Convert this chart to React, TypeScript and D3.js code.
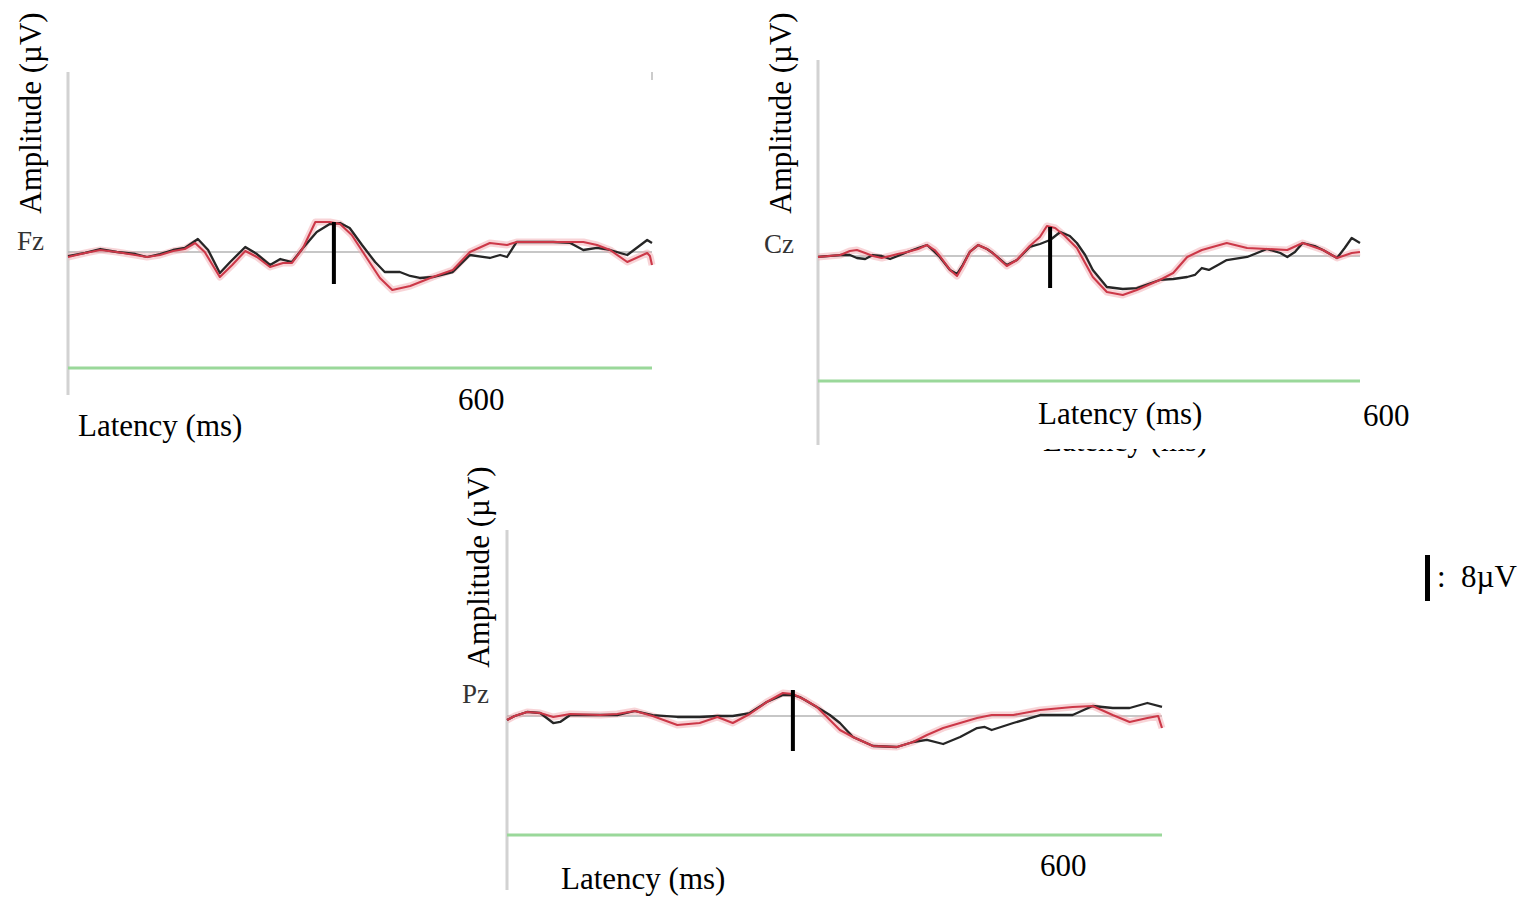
import React from 'react';
import * as d3 from 'd3';

// Vertical gain shared by every channel (pixels per microvolt) and the epoch length.
const PX_PER_UV = 5.75;
const LATENCY_DOMAIN: [number, number] = [0, 850];
const SCALE_BAR_UV = 8;

type Pt = [number, number]; // [latency ms, amplitude µV]

// ---- Fz ----
const fzTraceA: Pt[] = [
  [0, -0.7], [25, -0.17], [47, 0.52], [71, 0], [98, -0.35], [115, -0.87], [134, -0.35], [153, 0.35],
  [170, 0.7], [189, 2.26], [204, 0.35], [221, -3.65], [236, -1.74], [258, 0.87], [275, -0.35],
  [294, -2.26], [309, -1.22], [326, -1.74], [342, 0.7], [362, 3.48], [381, 4.87], [396, 5.04],
  [410, 4.17], [428, 1.22], [447, -1.74], [461, -3.48], [483, -3.48], [498, -4.17], [512, -4.52],
  [531, -4.35], [560, -3.48], [585, -0.52], [614, -1.04], [629, -0.52], [639, -0.87], [653, 1.74],
  [706, 1.74], [731, 1.57], [750, 0.35], [770, 0.7], [789, 0.35], [814, -0.52], [843, 2.09], [850, 1.57],
];
const fzTraceB: Pt[] = [
  [0, -0.87], [25, -0.17], [47, 0.35], [71, 0], [98, -0.52], [115, -0.87], [134, -0.52], [153, 0.17],
  [170, 0.52], [185, 1.57], [199, 0], [221, -4.35], [239, -2.26], [258, 0.17], [275, -0.87],
  [294, -2.61], [313, -1.91], [326, -1.91], [342, 0.7], [360, 5.22], [381, 5.22], [396, 4.87],
  [413, 2.96], [432, -0.52], [454, -4.52], [472, -6.61], [498, -5.91], [531, -4.35], [560, -3.13],
  [585, 0], [614, 1.57], [639, 1.22], [653, 1.74], [706, 1.74], [750, 1.74], [770, 1.22], [789, 0.35],
  [814, -1.74], [843, -0.17], [847, -0.7], [850, -2.26],
];
const fzMarker = { latency: 387, top: 5.22, bottom: -5.57 };

// ---- Cz ----
const czTraceA: Pt[] = [
  [0, -0.17], [35, 0.17], [50, 0.17], [61, -0.35], [74, -0.52], [86, 0.17], [100, 0], [113, -0.52],
  [125, 0], [140, 0.7], [157, 1.39], [171, 1.91], [183, 0.7], [191, -0.17], [207, -2.43], [218, -3.13],
  [227, -1.57], [238, 0.7], [251, 1.91], [265, 1.22], [274, 0.52], [296, -1.57], [312, -0.7], [332, 1.57],
  [348, 2.09], [364, 2.78], [380, 4.17], [395, 3.48], [406, 2.26], [419, 0.17], [431, -2.43], [453, -5.39],
  [478, -5.74], [500, -5.57], [536, -4.17], [557, -4.0], [579, -3.65], [591, -3.3], [602, -2.09],
  [613, -2.43], [630, -1.39], [641, -0.7], [673, -0.17], [704, 1.22], [725, 0.52], [736, -0.17],
  [748, 0.7], [760, 2.26], [779, 1.74], [792, 1.04], [814, -0.35], [826, 1.39], [837, 3.13], [850, 2.26],
];
const czTraceB: Pt[] = [
  [0, -0.17], [35, 0.17], [50, 0.87], [61, 1.04], [74, 0.52], [86, 0], [100, -0.35], [113, 0],
  [125, 0.35], [140, 0.7], [157, 1.22], [171, 1.91], [183, 1.04], [191, 0], [207, -2.43], [218, -3.48],
  [227, -1.74], [238, 0.7], [251, 1.91], [265, 1.22], [274, 0.52], [296, -1.74], [312, -0.7], [332, 1.74],
  [348, 3.3], [359, 5.22], [372, 4.87], [387, 3.48], [406, 1.39], [431, -3.65], [453, -6.26], [478, -6.78],
  [500, -5.91], [536, -4.17], [557, -2.96], [579, -0.17], [602, 1.04], [641, 2.26], [673, 1.39],
  [704, 1.22], [736, 1.04], [760, 2.26], [792, 1.04], [814, -0.35], [837, 0.52], [850, 0.7],
];
const czMarker = { latency: 364, top: 5.04, bottom: -5.57 };

// ---- Pz ----
const pzTraceA: Pt[] = [
  [0, -0.7], [10, 0], [26, 0.7], [43, 0.52], [60, -1.22], [69, -1.04], [82, 0.17], [121, 0.17],
  [143, 0.17], [166, 0.87], [189, 0.17], [221, -0.17], [250, -0.17], [273, 0], [293, 0], [315, 0.52],
  [337, 2.43], [358, 3.65], [371, 3.65], [380, 3.3], [402, 1.57], [419, 0.17], [432, -1.22], [449, -3.65],
  [475, -5.22], [506, -5.39], [527, -4.52], [545, -4.17], [566, -4.87], [588, -3.65], [610, -2.09],
  [620, -1.91], [629, -2.43], [657, -1.22], [692, 0.17], [734, 0.17], [760, 1.74], [786, 1.39],
  [808, 1.39], [831, 2.26], [850, 1.57],
];
const pzTraceB: Pt[] = [
  [0, -0.7], [10, 0], [26, 0.7], [43, 0.52], [60, -0.17], [82, 0.35], [121, 0.17], [143, 0.35],
  [166, 0.87], [189, 0], [221, -1.57], [250, -1.22], [273, -0.17], [293, -1.22], [315, 0.35], [337, 2.43],
  [358, 4.0], [371, 3.83], [387, 2.78], [402, 1.57], [419, -0.7], [432, -2.43], [449, -3.65], [475, -5.22],
  [506, -5.39], [527, -4.52], [545, -3.3], [566, -2.09], [588, -1.22], [610, -0.35], [629, 0.17],
  [657, 0.17], [692, 1.04], [734, 1.57], [760, 1.74], [786, 0.17], [808, -1.04], [831, -0.35], [845, 0],
  [850, -2.09],
];
const pzMarker = { latency: 371, top: 4.52, bottom: -6.09 };

const channelNames = ['Fz', 'Cz', 'Pz'];
const tickLabel = '600';
const xTitle = 'Latency (ms)';
const yTitle = 'Amplitude (µV)';
const scaleBarLabel = `:  ${SCALE_BAR_UV}µV`;

// Page placement of each panel.
const layouts = [
  { left: 68, right: 652, zero: 252, axisTop: 72, axisBottom: 395, green: 368,
    name: [17, 250], amp: [41, 113], lat: [78, 436], tick: [458, 410] },
  { left: 818, right: 1360, zero: 256, axisTop: 60, axisBottom: 445, green: 381,
    name: [764, 253], amp: [791, 113], lat: [1038, 424], tick: [1363, 426] },
  { left: 507, right: 1162, zero: 716, axisTop: 530, axisBottom: 890, green: 835,
    name: [462, 703], amp: [489, 567], lat: [561, 889], tick: [1040, 876] },
];

const channels = [
  { name: channelNames[0], a: fzTraceA, b: fzTraceB, marker: fzMarker, layout: layouts[0] },
  { name: channelNames[1], a: czTraceA, b: czTraceB, marker: czMarker, layout: layouts[1] },
  { name: channelNames[2], a: pzTraceA, b: pzTraceB, marker: pzMarker, layout: layouts[2] },
];

const SERIF = '"Liberation Serif", "Times New Roman", serif';

function Panel({ ch, idx }: { ch: typeof channels[number]; idx: number }) {
  const L = ch.layout;
  const x = d3.scaleLinear().domain(LATENCY_DOMAIN).range([L.left, L.right]);
  const y = d3.scaleLinear().domain([0, 1]).range([L.zero, L.zero - PX_PER_UV]);
  const line = d3.line<Pt>().x(d => x(d[0])).y(d => y(d[1])).curve(d3.curveLinear);
  const isCz = idx === 1;
  return (
    <g>
      {/* amplitude axis */}
      <line x1={L.left} x2={L.left} y1={L.axisTop} y2={L.axisBottom} stroke="#d2d2d2" strokeWidth={3} />
      {/* zero line */}
      <line x1={L.left} x2={L.right} y1={L.zero} y2={L.zero} stroke="#b4b4b4" strokeWidth={1.5} />
      {/* stimulus bar */}
      <line x1={L.left} x2={L.right} y1={L.green} y2={L.green} stroke="#9ad89a" strokeWidth={3} />
      {/* soft halo under the traces */}
      <path d={line(ch.b) ?? ''} fill="none" stroke="#f2a9b0" strokeOpacity={0.5} strokeWidth={7} strokeLinejoin="round" />
      <path d={line(ch.a) ?? ''} fill="none" stroke="#262626" strokeWidth={2.3} strokeLinejoin="round" />
      <path d={line(ch.b) ?? ''} fill="none" stroke="#cc3848" strokeWidth={2.1} strokeLinejoin="round" />
      {/* peak marker */}
      <line x1={x(ch.marker.latency)} x2={x(ch.marker.latency)} y1={y(ch.marker.top)} y2={y(ch.marker.bottom)}
        stroke="#000" strokeWidth={4} />
      <text x={L.name[0]} y={L.name[1]} fontFamily={SERIF} fontSize={27} fill="#333">{ch.name}</text>
      <text transform={`translate(${L.amp[0]},${L.amp[1]}) rotate(-90)`} textAnchor="middle"
        fontFamily={SERIF} fontSize={31} fill="#000">{yTitle}</text>
      {isCz && (
        <g>
          <text x={1043} y={451} fontFamily={SERIF} fontSize={31} fill="#000">{xTitle}</text>
          <rect x={1018} y={383} width={217} height={66} fill="#fff" />
        </g>
      )}
      <text x={L.lat[0]} y={L.lat[1]} fontFamily={SERIF} fontSize={31} fill="#000">{xTitle}</text>
      <text x={L.tick[0]} y={L.tick[1]} fontFamily={SERIF} fontSize={31} fill="#000">{tickLabel}</text>
    </g>
  );
}

export default function App() {
  const barScale = d3.scaleLinear().domain([0, 1]).range([0, PX_PER_UV]);
  const barTop = 555;
  return (
    <svg width={1528} height={902} style={{ position: 'absolute', left: 0, top: 0, background: '#fff' }}>
      <rect width={1528} height={902} fill="#fff" />
      {channels.map((ch, i) => <Panel key={ch.name} ch={ch} idx={i} />)}
      <line x1={652} x2={652} y1={72} y2={80} stroke="#bbb" strokeWidth={1.5} />
      {/* calibration bar */}
      <line x1={1427.5} x2={1427.5} y1={barTop} y2={barTop + barScale(SCALE_BAR_UV)} stroke="#000" strokeWidth={5} />
      <text x={1437} y={587} fontFamily={SERIF} fontSize={31} fill="#000" style={{ whiteSpace: 'pre' }}>{scaleBarLabel}</text>
    </svg>
  );
}
